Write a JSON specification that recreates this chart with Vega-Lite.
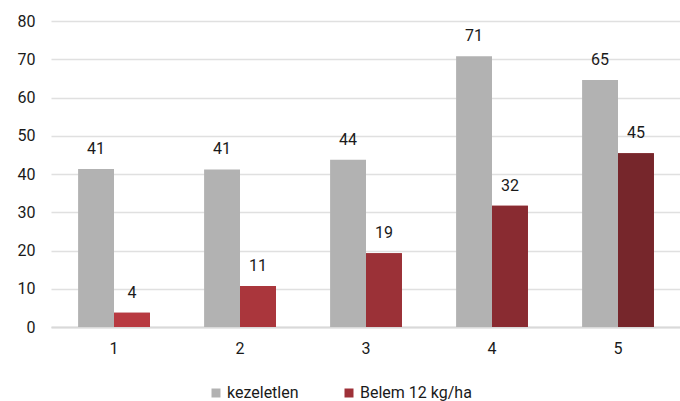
{
  "$schema": "https://vega.github.io/schema/vega-lite/v6.json",
  "width": 630,
  "height": 306,
  "autosize": {"type": "none"},
  "padding": {"left": 51, "top": 21, "right": 0, "bottom": 74},
  "config": {
    "font": "Roboto",
    "view": {"stroke": null},
    "axis": {"labelFont": "Roboto", "labelFontSize": 16, "labelColor": "#1a1a1a"},
    "legend": {"labelFont": "Roboto", "labelFontSize": 16, "labelColor": "#1a1a1a"}
  },
  "data": {
    "values": [
      {"group": "1", "series": "kezeletlen", "value": 41.3},
      {"group": "2", "series": "kezeletlen", "value": 41.2},
      {"group": "3", "series": "kezeletlen", "value": 43.7},
      {"group": "4", "series": "kezeletlen", "value": 70.8},
      {"group": "5", "series": "kezeletlen", "value": 64.6},
      {"group": "1", "series": "Belem 12 kg/ha", "value": 3.7},
      {"group": "2", "series": "Belem 12 kg/ha", "value": 10.7},
      {"group": "3", "series": "Belem 12 kg/ha", "value": 19.3},
      {"group": "4", "series": "Belem 12 kg/ha", "value": 31.7},
      {"group": "5", "series": "Belem 12 kg/ha", "value": 45.4}
    ]
  },
  "encoding": {
    "x": {
      "field": "group",
      "type": "ordinal",
      "scale": {"paddingInner": 0.43, "paddingOuter": 0.215},
      "axis": {"title": null, "labelAngle": 0, "ticks": false, "domain": true, "domainColor": "#d9d9d9", "domainWidth": 2, "labelPadding": 13}
    },
    "xOffset": {
      "field": "series",
      "type": "nominal",
      "scale": {"domain": ["kezeletlen", "Belem 12 kg/ha"], "paddingInner": 0}
    },
    "y": {
      "field": "value",
      "type": "quantitative",
      "scale": {"domain": [0, 80], "nice": false},
      "axis": {"title": null, "values": [0, 10, 20, 30, 40, 50, 60, 70, 80], "ticks": false, "domain": false, "grid": true, "gridColor": "#e0e0e0", "gridWidth": 1.5, "labelPadding": 16}
    }
  },
  "layer": [
    {
      "mark": {"type": "bar"},
      "encoding": {
        "color": {
          "field": "series",
          "type": "nominal",
          "scale": {"domain": ["kezeletlen", "Belem 12 kg/ha"], "range": ["#b2b2b2", "#9e3138"]},
          "legend": {
            "title": null,
            "orient": "none",
            "direction": "horizontal",
            "legendX": 157,
            "legendY": 364,
            "symbolType": "square",
            "symbolSize": 81,
            "symbolStrokeWidth": 0,
            "labelOffset": 3,
            "columnPadding": 42
          }
        }
      }
    },
    {
      "transform": [{"filter": "datum.series === 'Belem 12 kg/ha'"}],
      "mark": {"type": "bar"},
      "encoding": {
        "color": {
          "field": "group",
          "type": "ordinal",
          "scale": {"domain": ["1", "2", "3", "4", "5"], "range": ["#b83a41", "#aa363c", "#9b3137", "#892b31", "#76262b"]},
          "legend": null
        }
      }
    },
    {
      "mark": {"type": "text", "baseline": "alphabetic", "dy": -15, "fontSize": 16, "color": "#1a1a1a"},
      "encoding": {"text": {"field": "value", "type": "quantitative", "format": ".0f"}}
    }
  ],
  "resolve": {"scale": {"color": "independent"}}
}
